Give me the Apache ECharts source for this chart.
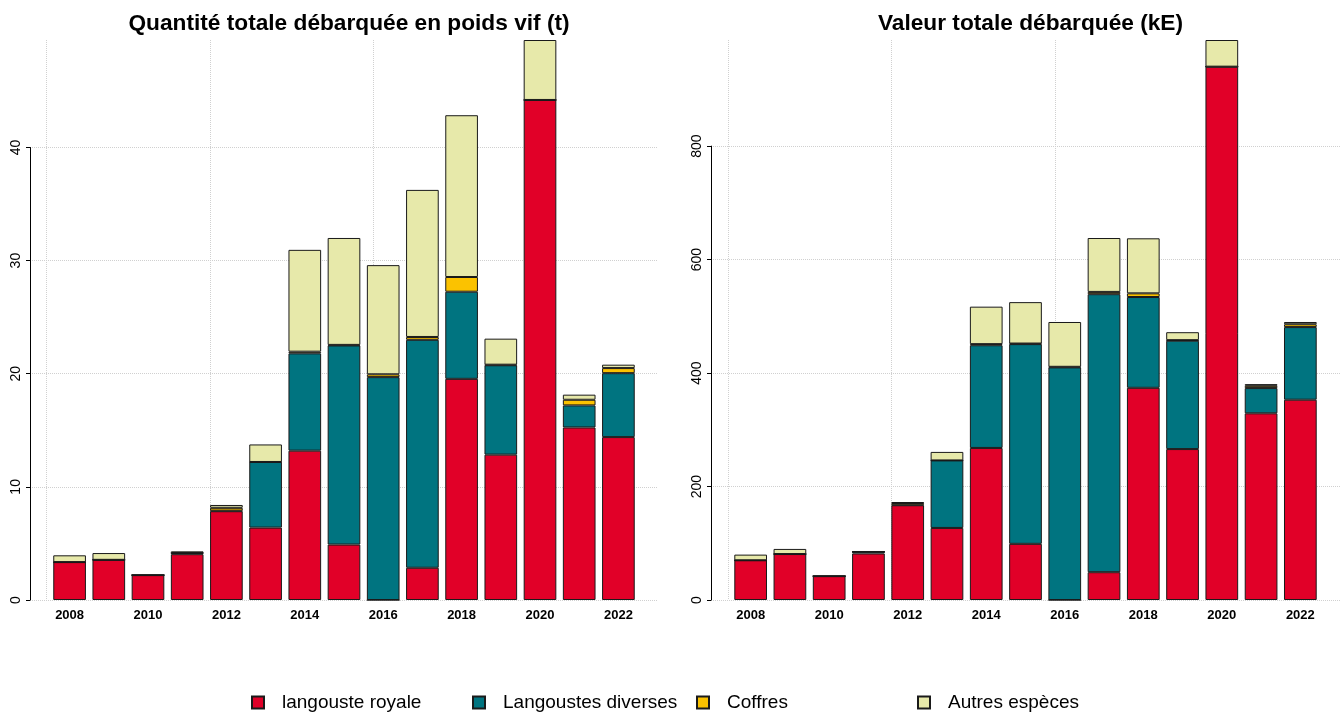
<!DOCTYPE html>
<html>
<head>
<meta charset="utf-8">
<script src="https://cdn.jsdelivr.net/npm/echarts@6/dist/echarts.min.js"></script>
<style>
html, body { margin: 0; padding: 0; background: #fff; }
#chart { width: 1341px; height: 713px; }
</style>
</head>
<body>
<div id="chart"></div>
<script>
const years = ['2008', '2009', '2010', '2011', '2012', '2013', '2014', '2015',
               '2016', '2017', '2018', '2019', '2020', '2021', '2022'];
const especes = ['langouste royale', 'Langoustes diverses', 'Coffres', 'Autres espèces'];
const couleurs = ['#E10028', '#007480', '#FBC200', '#E7E9AA'];

// quantité débarquée en poids vif (t)
const poidsRoyale   = [3.35, 3.55, 2.2, 4.05, 7.85, 6.4, 13.2, 4.9, 0, 2.85, 19.55, 12.85, 44.2, 15.25, 14.4];
const poidsDiverses = [0, 0, 0, 0.1, 0.05, 5.8, 8.6, 17.6, 19.7, 20.15, 7.7, 7.9, 0, 1.95, 5.65];
const poidsCoffres  = [0, 0, 0, 0, 0.25, 0, 0.15, 0.05, 0.25, 0.25, 1.3, 0.05, 0, 0.5, 0.45];
const poidsAutres   = [0.6, 0.6, 0, 0.15, 0.25, 1.55, 9.0, 9.45, 9.65, 13.0, 14.3, 2.3, 5.3, 0.45, 0.3];
const poidsTicks = [0, 10, 20, 30, 40];

// valeur débarquée (kE)
const valeurRoyale   = [70, 81, 42, 82, 167, 127, 268, 99, 0, 49, 374, 266, 940, 329, 353];
const valeurDiverses = [0, 0, 0, 3, 1, 119, 181, 352, 410, 490, 160, 191, 0, 44.5, 128];
const valeurCoffres  = [0, 0, 0, 0, 3, 0, 2, 1, 1, 4, 6.5, 1, 0, 4, 5];
const valeurAutres   = [10, 9, 0, 1, 1.5, 15, 66, 73, 79, 95, 97, 14, 47, 3, 4];
const valeurTicks = [0, 200, 400, 600, 800];

const chart = echarts.init(document.getElementById('chart'));

const TOP = 40, BOTTOM = 600;
const panels = [
    { titre: 'Quantité totale débarquée en poids vif (t)', left: 30, right: 658,
      data: [poidsRoyale, poidsDiverses, poidsCoffres, poidsAutres], ticks: poidsTicks },
    { titre: 'Valeur totale débarquée (kE)', left: 711, right: 1340,
      data: [valeurRoyale, valeurDiverses, valeurCoffres, valeurAutres], ticks: valeurTicks }
];

const grid = [], xAxis = [], yAxis = [], series = [], title = [];
const dotted = { type: 'dotted', color: '#d0d0d0', width: 1 };

panels.forEach((p, k) => {
    const n = years.length;
    const w = p.right - p.left, h = BOTTOM - TOP;
    // coordonnées "barplot" : barres de largeur 1, espace 0.2, zone étendue de 4 %
    const ext = (1.2 * n - 0.2) * 0.04;
    const uMin = 0.2 - ext, uMax = 1.2 * n + ext;
    const unit = w / (uMax - uMin);
    const totals = years.map((_, i) => p.data.reduce((s, d) => s + d[i], 0));
    const yMax = Math.max(...totals);
    const tickMax = p.ticks[p.ticks.length - 1];
    const g = grid.length;

    title.push({
        text: p.titre, left: (p.left + p.right) / 2, top: 7, textAlign: 'center',
        textStyle: { fontSize: 22.7, fontWeight: 'bold', color: '#000', fontFamily: 'Liberation Sans' }
    });

    // fond : lignes verticales pointillées
    grid.push({ left: p.left, top: TOP, width: w, height: h, outerBoundsMode: 'none' });
    xAxis.push({ gridIndex: g, type: 'value', min: uMin, max: uMax, splitNumber: 4,
        axisLine: { show: false }, axisTick: { show: false }, axisLabel: { show: false },
        splitLine: { show: true, showMinLine: false, showMaxLine: false, lineStyle: dotted } });
    yAxis.push({ gridIndex: g, type: 'value', min: 0, max: yMax, show: false });

    // barres
    grid.push({ left: p.left + (0.1 - uMin) * unit, top: TOP, width: 1.2 * n * unit, height: h, outerBoundsMode: 'none' });
    xAxis.push({ gridIndex: g + 1, type: 'category', data: years,
        axisLine: { show: false }, axisTick: { show: false }, splitLine: { show: false },
        axisLabel: { interval: 1, fontSize: 13, fontWeight: 'bold', color: '#000', margin: 9 } });
    yAxis.push({ gridIndex: g + 1, type: 'value', min: 0, max: yMax, show: false });

    // axe y : trait seulement du premier au dernier tick
    grid.push({ left: p.left, top: TOP + h * (1 - tickMax / yMax), width: w, height: h * tickMax / yMax, outerBoundsMode: 'none' });
    xAxis.push({ gridIndex: g + 2, type: 'value', min: 0, max: 1, show: false });
    yAxis.push({ gridIndex: g + 2, type: 'value', min: 0, max: tickMax, interval: p.ticks[1] - p.ticks[0],
        axisLine: { show: true, onZero: false, lineStyle: { color: '#000', width: 1 } },
        axisTick: { show: true, length: 4, lineStyle: { color: '#000' } },
        axisLabel: { rotate: 90, fontSize: 14, color: '#000', margin: 7 },
        splitLine: { show: true, lineStyle: dotted } });

    especes.forEach((nom, s) => {
        series.push({
            type: 'bar', name: nom, xAxisIndex: g + 1, yAxisIndex: g + 1, stack: 'p' + k,
            data: p.data[s], barCategoryGap: '16.67%',
            itemStyle: { color: couleurs[s], borderColor: '#1a1a1a', borderWidth: 1 },
            emphasis: { disabled: true }
        });
    });
});

const legendLeft = [246, 467, 691, 912];
const legend = especes.map((nom, s) => ({
    data: [nom], left: legendLeft[s], top: 688, icon: 'rect', itemWidth: 12, itemHeight: 12,
    selectedMode: false,
    textStyle: { fontSize: 19, color: '#000', padding: [0, 0, 0, 13] }
}));

chart.setOption({
    animation: false,
    color: couleurs,
    textStyle: { fontFamily: 'Liberation Sans' },
    title: title,
    legend: legend,
    grid: grid,
    xAxis: xAxis,
    yAxis: yAxis,
    series: series
});
</script>
</body>
</html>
